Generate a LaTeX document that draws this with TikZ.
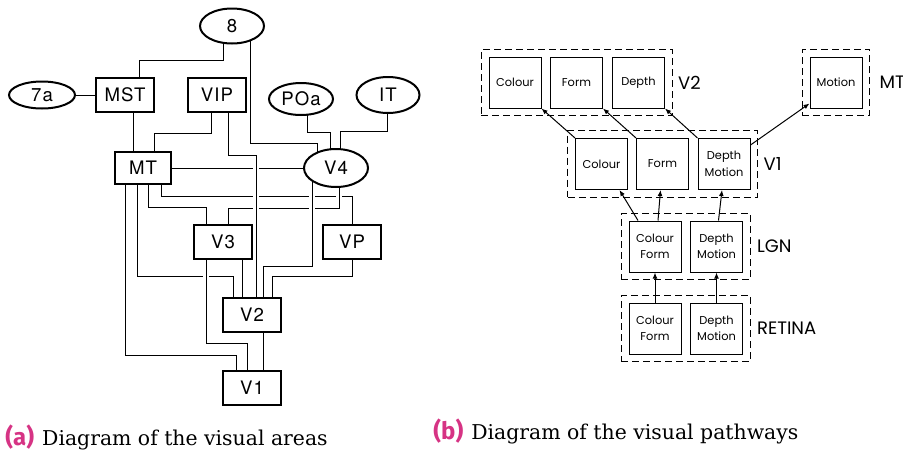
\documentclass[tikz,border=0pt]{standalone}
\usepackage{fontspec}
\usepackage{xcolor}
\usepackage{tikz}
\usetikzlibrary{arrows.meta,positioning,fit,backgrounds,shapes.geometric}

\newfontfamily\areafont{TeX Gyre Heros}[LetterSpace=6]
\newfontfamily\pathfont{Poppins}
\newfontfamily\capserif{DejaVu Serif}
\newfontfamily\capsans{Fira Sans}
\definecolor{capmagenta}{RGB}{214,51,132}

\begin{document}
\begin{tikzpicture}[
  x=0.5pt, y=-0.5pt,
  area/.style={draw, line width=1pt, minimum width=29pt, minimum height=17pt, inner sep=0pt, fill=white, font=\areafont\fontsize{9.3}{10}\selectfont},
  field/.style={ellipse, draw, line width=1pt, minimum width=32pt, minimum height=17.5pt, inner sep=0pt, fill=white, font=\areafont\fontsize{9.3}{10}\selectfont},
  wire/.style={line width=0.5pt},
  over/.style={wire, preaction={draw=white, line width=2.8pt}},
  cell/.style={draw, line width=0.5pt, minimum width=26pt, minimum height=25.5pt, inner sep=0pt, align=center, font=\pathfont\fontsize{5.7}{8.2}\selectfont},
  group/.style={draw, dash pattern=on 3.5pt off 2pt, line width=0.5pt, inner sep=3.6pt},
  stage/.style={inner sep=0pt, font=\pathfont\fontsize{9}{10}\selectfont},
  flow/.style={-{Latex[length=3pt,width=2.4pt]}, line width=0.5pt}
]
\useasboundingbox (0,0) rectangle (903,450);

% (a) visual areas
\node[field] (eight) at (232,26) {8};
\node[field, minimum width=33pt, minimum height=13.5pt] (sevena) at (42,95) {7a};
\node[area] (mst) at (125,95) {MST};
\node[area] (vip) at (217,95) {VIP};
\node[field, minimum height=16pt] (poa) at (301,99) {POa};
\node[field, minimum width=31.5pt, minimum height=18pt] (it) at (388,95) {IT};
\node[area, minimum width=28pt, minimum height=16pt] (mt) at (143,168) {MT};
\node[field, minimum height=19pt] (vfour) at (336,168) {V4};
\node[area] (vthree) at (223,242) {V3};
\node[area] (vp) at (352,242) {VP};
\node[area] (vtwo) at (252,315) {V2};
\node[area] (vone) at (252,388) {V1};

\begin{scope}[on background layer]
\draw[wire] ([xshift=-4.5pt]eight.center) -- ++(0,34) -| ([xshift=7pt]mst.center);
\draw[wire] ([xshift=9pt]eight.center) -- ++(0,117) -| ([xshift=-9.5pt]vfour.center);
\draw[wire] (sevena) -- (mst);
\draw[wire] ([xshift=4pt]mst.center) |- (mt);
\draw[wire] ([xshift=-3pt]vip.center) -- ++(0,38) -| ([xshift=5.5pt]mt.center);
\draw[wire] ([xshift=3pt]poa.center) -- ++(0,33) -| ([xshift=-3pt]vfour.center);
\draw[wire] ([xshift=-0.5pt]it.center) -- ++(0,36) -| ([xshift=2pt]vfour.center);
\draw[wire] (mt) -- (vfour);
\draw[wire] ([xshift=9pt]mt.center) -- ++(0,28) -| (vp.center);
\draw[wire] ([xshift=2.5pt]mt.center) -- ++(0,39) -| ([xshift=-8.5pt]vthree.center);
\draw[wire] ([xshift=-3pt]mt.center) -- ++(0,108) -| ([xshift=-9.5pt]vtwo.center);
\draw[wire] ([xshift=-9pt]mt.center) -- ++(0,187) -| ([xshift=-8pt]vone.center);
\draw[wire] (vp.center) -- ++(0,34) -| ([xshift=10pt]vtwo.center);
\draw[wire] ([xshift=9.5pt]vthree.center) |- (vtwo);
\draw[wire] ([xshift=5.5pt]vtwo.center) |- (vone);
% crossings: these run over the others
\draw[over] ([xshift=1.5pt]vfour.center) -- ++(0,40) -| ([xshift=2.5pt]vthree.center);
\draw[over] ([xshift=-12pt]vfour.center) -- ++(0,98) -| ([xshift=5.5pt]vtwo.center);
\draw[over] ([xshift=5.5pt]vip.center) -- ++(0,60) -| ([xshift=2pt]vtwo.center);
\draw[over] ([xshift=-8.5pt]vthree.center) -- ++(0,101) -| ([xshift=-2.5pt]vone.center);
\end{scope}

% (b) visual pathways
\node[cell] (colourtwo) at (515,82.5) {Colour};
\node[cell] (formtwo) at (576.5,82.5) {Form};
\node[cell] (depthtwo) at (638.5,82.5) {Depth};
\node[cell] (motionmt) at (836,82.5) {Motion};
\node[cell] (colourone) at (601.5,164) {Colour};
\node[cell] (formone) at (662.5,164) {Form};
\node[cell] (depthone) at (724,164) {Depth\\Motion};
\node[cell] (cflgn) at (655,246.5) {Colour\\Form};
\node[cell] (dmlgn) at (716.5,246.5) {Depth\\Motion};
\node[cell] (cfret) at (655,328.5) {Colour\\Form};
\node[cell] (dmret) at (716.5,328.5) {Depth\\Motion};

\node[group, fit=(colourtwo)(depthtwo)] (vtwogrp) {};
\node[group, fit=(motionmt)] (mtgrp) {};
\node[group, fit=(colourone)(depthone)] (vonegrp) {};
\node[group, fit=(cflgn)(dmlgn)] (lgngrp) {};
\node[group, fit=(cfret)(dmret)] (retgrp) {};

\node[stage, right=2.5pt of vtwogrp] (vtwolbl) {V2};
\node[stage, right=4.5pt of mtgrp] (mtlbl) {MT};
\node[stage, right=2.5pt of vonegrp] (vonelbl) {V1};
\node[stage, right=3pt of lgngrp] (lgnlbl) {LGN};
\node[stage, right=3pt of retgrp] (retlbl) {RETINA};

\draw[flow] (colourone.north west) -- (colourtwo.south east);
\draw[flow] (formone.north west) -- (formtwo.south east);
\draw[flow] (depthone.north west) -- (depthtwo.south east);
\draw[flow] ([yshift=-3.5pt]depthone.north east) -- ([yshift=2.5pt]motionmt.south west);
\draw[flow] ([xshift=-8.5pt]cflgn.north) -- ([xshift=9pt]colourone.south);
\draw[flow] ([xshift=1.5pt]cflgn.north) -- ([xshift=-1pt]formone.south);
\draw[flow] ([xshift=1pt]dmlgn.north) -- ([xshift=-1pt]depthone.south);
\draw[flow] (cfret) -- (cflgn);
\draw[flow] (dmret) -- (dmlgn);

% captions
\node[anchor=base west, inner sep=0pt] (capa) at (5,445)
 {{\capsans\bfseries\fontsize{12}{14}\selectfont\color{capmagenta}(a)}\hspace{4pt}{\capserif\fontsize{10.2}{12}\selectfont Diagram of the visual areas}};
\node[anchor=base west, inner sep=0pt] (capb) at (433,439)
 {{\capsans\bfseries\fontsize{12}{14}\selectfont\color{capmagenta}(b)}\hspace{4pt}{\capserif\fontsize{10.2}{12}\selectfont Diagram of the visual pathways}};
\end{tikzpicture}
\end{document}
